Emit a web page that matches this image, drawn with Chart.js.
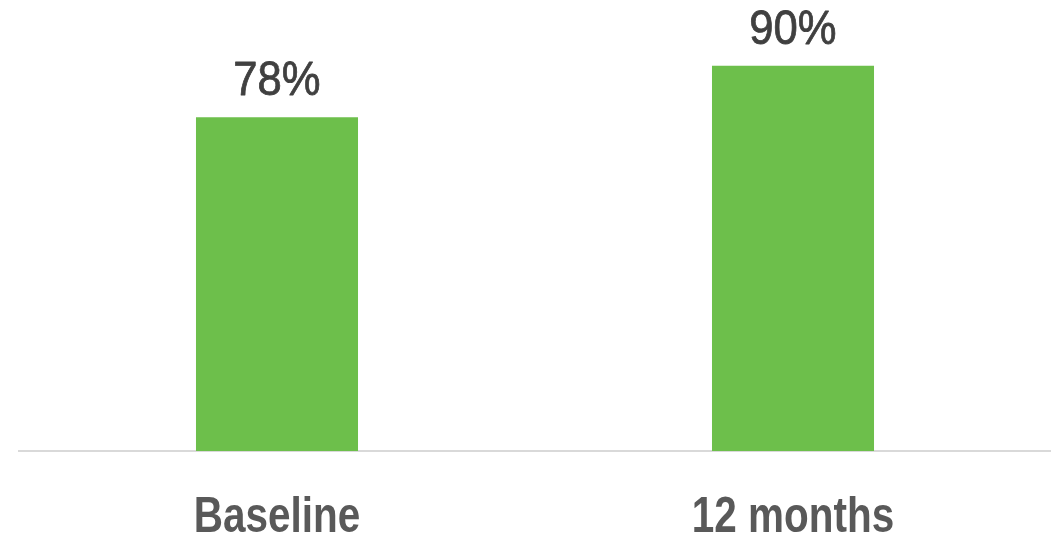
<!DOCTYPE html>
<html>
<head>
<meta charset="utf-8">
<script src="https://cdn.jsdelivr.net/npm/chart.js@4"></script>
<style>
    html, body { margin: 0; padding: 0; background: #ffffff; }
    #wrap { width: 1051px; height: 535px; }
</style>
</head>
<body>
<div id="wrap"><canvas id="scoreChart"></canvas></div>
<script>
const categories = ['Baseline', '12 months'];
const scores = [78, 90];

// text drawn squeezed horizontally to get a condensed face,
// with an optional outline to thicken the strokes
function drawNarrow(ctx, text, x, y, squeeze, outline) {
    ctx.save();
    ctx.translate(x, y);
    ctx.scale(squeeze, 1);
    ctx.fillText(text, 0, 0);
    if (outline) {
        ctx.lineWidth = outline;
        ctx.lineJoin = 'round';
        ctx.strokeText(text, 0, 0);
    }
    ctx.restore();
}

// "NN%" above each bar and the category names under the axis
const barText = {
    id: 'barText',
    afterDatasetsDraw(chart) {
        const ctx = chart.ctx;
        const meta = chart.getDatasetMeta(0);
        const xScale = chart.scales.x;
        ctx.save();
        ctx.textAlign = 'center';
        ctx.textBaseline = 'alphabetic';

        ctx.font = '49px "Liberation Sans", Arial, sans-serif';
        ctx.fillStyle = '#404040';
        ctx.strokeStyle = '#404040';
        meta.data.forEach((bar, i) => {
            drawNarrow(ctx, scores[i] + '%', bar.x, bar.y - 22, 0.89, 0.8);
        });

        ctx.font = 'bold 50px "Liberation Sans", Arial, sans-serif';
        ctx.fillStyle = '#595959';
        categories.forEach((name, i) => {
            drawNarrow(ctx, name, xScale.getPixelForValue(i), 532, 0.81, 0);
        });
        ctx.restore();
    }
};

document.addEventListener('DOMContentLoaded', () => {
    const ctx = document.getElementById('scoreChart').getContext('2d');

    new Chart(ctx, {
        type: 'bar',
        data: {
            labels: categories,
            datasets: [{
                data: scores,
                backgroundColor: '#6dbf4b',
                borderWidth: 0,
                categoryPercentage: 1,
                barPercentage: 0.314
            }]
        },
        options: {
            responsive: true,
            maintainAspectRatio: false,
            animation: false,
            layout: {
                padding: { top: 23, left: 19, right: 0, bottom: 84 }
            },
            plugins: {
                legend: { display: false },
                tooltip: { enabled: false }
            },
            scales: {
                x: {
                    grid: { display: false, drawTicks: false },
                    border: { color: '#d9d9d9', width: 2 },
                    ticks: { display: false }
                },
                y: {
                    display: false,
                    min: 0,
                    max: 100
                }
            }
        },
        plugins: [barText]
    });
});
</script>
</body>
</html>
